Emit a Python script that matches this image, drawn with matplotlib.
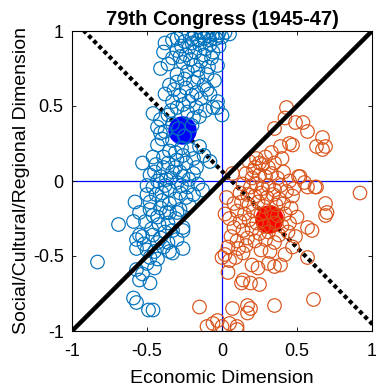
import numpy as np
import matplotlib
matplotlib.use("Agg")
import matplotlib.pyplot as plt

plt.rcParams['font.family'] = ['Liberation Sans', 'DejaVu Sans']

# --- chart values ---
title = "79th Congress (1945-47)"
x_label = "Economic Dimension"
y_label = "Social/Cultural/Regional Dimension"
ticks = [-1, -0.5, 0, 0.5, 1]
tick_labels = ["-1", "-0.5", "0", "0.5", "1"]

# Democrats (blue open circles)
dem_points = [
    (-0.27, 0.97), (-0.22, 0.99), (-0.18, 0.98), (-0.14, 0.99), (-0.10, 0.99),
    (-0.06, 0.98), (-0.02, 0.99), (0.02, 0.99), (0.05, 0.98), (-0.20, 0.95),
    (-0.16, 0.94), (-0.12, 0.95), (-0.08, 0.94), (-0.04, 0.95), (0.00, 0.96),
    (-0.25, 0.93), (-0.30, 0.95), (-0.13, 0.97), (-0.09, 0.97), (-0.03, 0.97),
    (-0.38, 0.92), (-0.33, 0.94), (-0.39, 0.86), (-0.27, 0.90), (-0.22, 0.89),
    (-0.15, 0.91), (-0.11, 0.88), (-0.06, 0.86), (-0.02, 0.90), (-0.18, 0.86),
    (-0.24, 0.84), (-0.30, 0.87),
    (-0.33, 0.82), (-0.41, 0.75), (-0.30, 0.71), (-0.23, 0.73), (-0.10, 0.71),
    (-0.03, 0.77), (-0.14, 0.80), (-0.19, 0.77), (-0.07, 0.82), (-0.26, 0.79),
    (-0.16, 0.74), (-0.36, 0.78),
    (-0.35, 0.64), (-0.19, 0.66), (-0.28, 0.57), (-0.17, 0.59), (-0.03, 0.53),
    (-0.33, 0.53), (-0.24, 0.62), (-0.12, 0.64), (-0.08, 0.58), (-0.22, 0.53),
    (-0.30, 0.66), (-0.14, 0.55), (-0.38, 0.58), (-0.05, 0.67),
    (-0.46, 0.45), (-0.41, 0.41), (-0.43, 0.36), (-0.15, 0.43), (-0.06, 0.49),
    (-0.03, 0.49), (0.00, 0.44), (-0.30, 0.49), (-0.17, 0.49), (-0.36, 0.44),
    (-0.23, 0.46), (-0.33, 0.38), (-0.20, 0.37), (-0.25, 0.30), (-0.29, 0.35),
    (-0.38, 0.33),
    (-0.41, 0.32), (-0.15, 0.23), (-0.21, 0.21), (-0.46, 0.16), (-0.53, 0.12),
    (-0.39, 0.09), (-0.30, 0.14), (-0.17, 0.09), (-0.08, 0.13), (-0.35, 0.20),
    (-0.43, 0.24), (-0.27, 0.22), (-0.33, 0.27), (-0.24, 0.12), (-0.12, 0.17),
    (-0.36, 0.12), (-0.45, 0.06), (-0.28, 0.06),
    (-0.41, 0.03), (-0.37, 0.01), (-0.46, -0.04), (-0.30, -0.01), (-0.23, -0.04),
    (-0.19, 0.05), (-0.13, -0.06), (-0.26, 0.03), (-0.33, 0.06), (-0.50, -0.03),
    (-0.43, 0.00), (-0.35, -0.06), (-0.28, -0.08), (-0.19, -0.09), (-0.40, -0.08),
    (-0.22, 0.01), (-0.16, -0.02), (-0.31, 0.09), (-0.48, 0.04),
    (-0.58, -0.14), (-0.48, -0.14), (-0.35, -0.15), (-0.28, -0.19), (-0.48, -0.19),
    (-0.43, -0.24), (-0.37, -0.21), (-0.46, -0.23), (-0.35, -0.21), (-0.69, -0.29),
    (-0.59, -0.27), (-0.26, -0.31), (-0.55, -0.21), (-0.40, -0.13), (-0.31, -0.25),
    (-0.42, -0.29), (-0.36, -0.28), (-0.22, -0.16), (-0.51, -0.27),
    (-0.55, -0.36), (-0.46, -0.36), (-0.57, -0.45), (-0.26, -0.45), (-0.35, -0.47),
    (-0.33, -0.33), (-0.26, -0.33), (-0.41, -0.38), (-0.57, -0.39), (-0.53, -0.37),
    (-0.43, -0.41), (-0.50, -0.46), (-0.39, -0.44), (-0.47, -0.32), (-0.33, -0.48),
    (-0.83, -0.54), (-0.48, -0.51), (-0.43, -0.52), (-0.50, -0.55), (-0.57, -0.59),
    (-0.45, -0.58), (-0.55, -0.66), (-0.48, -0.68), (-0.59, -0.78), (-0.57, -0.81),
    (-0.49, -0.86), (-0.46, -0.86), (-0.53, -0.62),
    (-0.20, 0.92), (-0.08, 0.91), (-0.12, 0.84), (-0.28, 0.83), (-0.21, 0.81),
    (-0.09, 0.76), (-0.25, 0.68), (-0.16, 0.69), (-0.32, 0.61), (-0.10, 0.61),
    (-0.20, 0.57), (-0.26, 0.51), (-0.11, 0.47), (-0.19, 0.42), (-0.34, 0.47),
    (-0.40, 0.28), (-0.31, 0.19), (-0.19, 0.15), (-0.39, 0.16), (-0.26, 0.17),
    (-0.44, 0.11), (-0.34, 0.02), (-0.27, -0.03), (-0.38, -0.03), (-0.44, -0.09),
    (-0.31, -0.12), (-0.24, -0.11), (-0.41, -0.18), (-0.30, -0.21), (-0.50, -0.09),
    (-0.38, -0.34), (-0.30, -0.39), (-0.45, -0.47), (-0.36, -0.41), (-0.52, -0.42),
]

# Republicans (orange open circles)
rep_points = [
    (0.43, 0.49), (0.42, 0.42), (0.35, 0.35), (0.49, 0.39), (0.54, 0.39),
    (0.57, 0.33), (0.67, 0.29), (0.63, 0.23), (0.69, 0.23), (0.45, 0.25),
    (0.47, 0.24), (0.39, 0.23), (0.33, 0.19), (0.67, 0.21), (0.29, 0.16),
    (0.40, 0.15),
    (0.07, 0.05), (0.25, 0.12), (0.21, 0.07), (0.22, 0.09), (0.52, 0.03),
    (0.57, -0.04), (0.63, -0.04), (0.92, -0.08), (0.03, -0.11), (0.62, -0.04),
    (0.55, -0.01), (0.51, 0.03), (0.69, -0.15), (0.69, -0.23), (0.57, -0.31),
    (0.60, -0.33), (0.70, -0.21),
    (0.18, 0.13), (0.23, 0.15), (0.27, 0.11), (0.31, 0.09), (0.35, 0.12),
    (0.16, 0.05), (0.20, 0.02), (0.25, 0.04), (0.29, 0.03), (0.33, 0.05),
    (0.37, 0.02), (0.41, 0.06), (0.45, 0.00), (0.14, -0.02), (0.19, -0.04),
    (0.23, -0.02), (0.27, -0.05), (0.31, -0.03), (0.35, -0.06), (0.39, -0.03),
    (0.43, -0.07), (0.48, -0.05), (0.12, -0.08), (0.17, -0.09), (0.22, -0.10),
    (0.26, -0.08), (0.30, -0.11), (0.34, -0.09), (0.38, -0.12), (0.47, -0.10),
    (0.08, -0.15), (0.13, -0.14), (0.18, -0.16), (0.24, -0.14), (0.28, -0.17),
    (0.36, -0.16), (0.41, -0.15), (0.46, -0.18), (0.10, -0.20), (0.15, -0.22),
    (0.21, -0.20), (0.26, -0.22), (0.33, -0.21), (0.37, -0.23), (0.42, -0.22),
    (0.50, -0.24), (0.05, -0.25), (0.12, -0.27), (0.18, -0.26), (0.23, -0.28),
    (0.28, -0.30), (0.35, -0.28), (0.40, -0.30), (0.45, -0.28), (0.08, -0.31),
    (0.14, -0.33), (0.20, -0.32), (0.25, -0.35), (0.31, -0.34), (0.38, -0.36),
    (0.44, -0.34), (0.02, -0.22), (0.06, -0.37), (0.17, -0.38), (0.22, -0.40),
    (0.29, -0.39), (0.35, -0.41),
    (0.02, -0.49), (0.05, -0.53), (0.00, -0.51), (0.09, -0.51), (0.04, -0.44),
    (0.11, -0.45), (0.14, -0.48), (0.20, -0.56), (0.24, -0.58), (0.31, -0.55),
    (0.39, -0.56), (0.35, -0.57), (0.47, -0.44), (0.49, -0.37), (0.57, -0.51),
    (0.26, -0.46), (0.16, -0.43), (0.32, -0.47), (0.42, -0.49), (0.10, -0.40),
    (0.04, -0.61), (0.13, -0.68), (0.19, -0.68), (0.25, -0.69), (0.14, -0.66),
    (0.07, -0.85), (0.17, -0.83), (0.17, -0.88), (0.19, -0.85), (0.35, -0.83),
    (0.61, -0.79), (-0.15, -0.84), (-0.10, -0.97), (-0.03, -0.93), (0.10, -0.99),
    (0.00, -0.97), (0.10, -0.97), (0.05, -0.95), (-0.06, -0.95),
]

# party means (filled)
dem_mean = (-0.27, 0.34)
rep_mean = (0.31, -0.25)

dem_x, dem_y = np.array(dem_points).T
rep_x, rep_y = np.array(rep_points).T

fig = plt.figure(figsize=(3.76, 3.89), dpi=100)
ax = fig.add_axes([72 / 376, 58 / 389, 300 / 376, 300 / 389])

# axes cross
ax.axhline(0, color='#0000ff', lw=0.9, zorder=1)
ax.axvline(0, color='#0000ff', lw=0.9, zorder=1)

# line through the two party means
slope = (rep_mean[1] - dem_mean[1]) / (rep_mean[0] - dem_mean[0])
xs = np.array([-1.2, 1.2])
ax.plot(xs, dem_mean[1] + slope * (xs - dem_mean[0]), color='black', lw=3,
        dashes=(1, 0.75), zorder=2)

ax.scatter([dem_mean[0]], [dem_mean[1]], s=380, color='#0000ff', zorder=3)
ax.scatter([rep_mean[0]], [rep_mean[1]], s=380, color='#ff0000', zorder=3)

ax.scatter(dem_x, dem_y, s=95, facecolors='none', edgecolors='#0072BD',
           linewidths=0.85, zorder=4)
ax.scatter(rep_x, rep_y, s=95, facecolors='none', edgecolors='#D95319',
           linewidths=0.85, zorder=4)

# cutting line
ax.plot([-1, 1], [-1, 1], color='black', lw=3.2, zorder=5)

ax.set_xlim(-1, 1)
ax.set_ylim(-1, 1)
ax.set_xticks(ticks)
ax.set_xticklabels(tick_labels)
ax.set_yticks(ticks)
ax.set_yticklabels(tick_labels)
ax.tick_params(direction='in', length=3, width=0.6, top=True, right=True,
               labelsize=13)
ax.tick_params(axis='x', pad=9)
ax.tick_params(axis='y', pad=6)
for sp in ax.spines.values():
    sp.set_linewidth(0.8)
    sp.set_zorder(6)

ax.set_title(title, fontsize=14.5, fontweight='bold', pad=4)
ax.set_xlabel(x_label, fontsize=14, labelpad=7)
ax.set_ylabel(y_label, fontsize=14, labelpad=2)

fig.savefig("out.png", dpi=100)
